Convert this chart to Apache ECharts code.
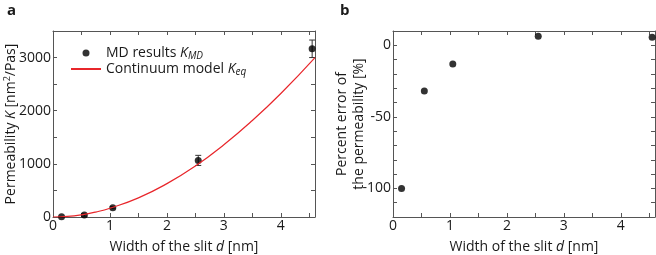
<!DOCTYPE html>
<html>
<head>
<meta charset="utf-8">
<script src="https://cdn.jsdelivr.net/npm/echarts@6/dist/echarts.min.js"></script>
<style>
  html, body { margin: 0; padding: 0; background: #fff; }
  #chart { width: 656px; height: 255px; }
</style>
</head>
<body>
<div id="chart"></div>
<script>
// MD results (panel a) and percent error (panel b)
var slitWidth = [0.15, 0.55, 1.05, 2.55, 4.55];
var permMD = [3, 37, 175, 1065, 3165];
var permErr = [5, 22, 20, 95, 165];
var percentErr = [-100, -32, -13, 6.3, 5.6];

// continuum model curve
var modelWidth = [0, 0.25, 0.5, 0.75, 1, 1.5, 2, 2.5, 3, 3.5, 4, 4.6];
var modelPerm = [0, 10, 41, 93, 165, 360, 628, 960, 1360, 1816, 2324, 3000];

var FONT = 'Open Sans';
var TXT = '#1a1a1a';
var AXIS = '#555';

function pairs(xs, ys) {
  var out = [];
  for (var i = 0; i < xs.length; i++) out.push([xs[i], ys[i]]);
  return out;
}

var errData = [];
for (var i = 0; i < slitWidth.length; i++) {
  errData.push([slitWidth[i], permMD[i] - permErr[i], permMD[i] + permErr[i]]);
}

function renderErr(params, api) {
  var x = api.value(0);
  var top = api.coord([x, api.value(2)]);
  var bot = api.coord([x, api.value(1)]);
  var w = 3;
  var st = { stroke: '#333', lineWidth: 1 };
  return {
    type: 'group',
    children: [
      { type: 'line', shape: { x1: top[0], y1: top[1], x2: bot[0], y2: bot[1] }, style: st },
      { type: 'line', shape: { x1: top[0] - w, y1: top[1], x2: top[0] + w, y2: top[1] }, style: st },
      { type: 'line', shape: { x1: bot[0] - w, y1: bot[1], x2: bot[0] + w, y2: bot[1] }, style: st }
    ]
  };
}

function makeRich(size) {
  return {
    i: { fontStyle: 'italic', fontFamily: FONT, fontSize: size, color: TXT },
    sub: { fontStyle: 'italic', fontFamily: FONT, fontSize: 10, color: TXT, lineHeight: 10, verticalAlign: 'bottom' },
    sup: { fontFamily: FONT, fontSize: 9, color: TXT, lineHeight: 9, verticalAlign: 'top' }
  };
}

function xAxisPair(grid) {
  var base = {
    gridIndex: grid, type: 'value', min: 0, max: 4.6, interval: 0.5,
    axisLine: { onZero: false, lineStyle: { color: AXIS, width: 1 } },
    axisTick: { inside: true, length: 4, lineStyle: { color: AXIS } },
    splitLine: { show: false }
  };
  var bottom = Object.assign({}, base, {
    position: 'bottom',
    name: 'Width of the slit {i|d} [nm]',
    nameLocation: 'middle',
    nameGap: 23,
    nameMoveOverlap: false,
    nameTextStyle: { fontFamily: FONT, fontSize: 14, color: TXT, rich: makeRich(14) },
    axisLabel: {
      fontFamily: FONT, fontSize: 14, color: TXT, margin: 2,
      formatter: function (v) { return v % 1 === 0 ? String(v) : ''; }
    }
  });
  var top = Object.assign({}, base, { position: 'top', axisLabel: { show: false } });
  return [bottom, top];
}

function yAxisPair(grid, min, max, step, labelStep, name, gap) {
  var base = {
    gridIndex: grid, type: 'value', min: min, max: max, interval: step,
    axisLine: { show: true, onZero: false, lineStyle: { color: AXIS, width: 1 } },
    axisTick: { show: true, inside: true, length: 4, lineStyle: { color: AXIS } },
    splitLine: { show: false }
  };
  var left = Object.assign({}, base, {
    position: 'left',
    name: name,
    nameLocation: 'middle',
    nameGap: gap,
    nameMoveOverlap: false,
    nameTextStyle: { fontFamily: FONT, fontSize: 14, color: TXT, lineHeight: 17, rich: makeRich(14) },
    axisLabel: {
      fontFamily: FONT, fontSize: 14, color: TXT, margin: 2,
      formatter: function (v) { return v % labelStep === 0 ? String(v) : ''; }
    }
  });
  var right = Object.assign({}, base, { position: 'right', axisLabel: { show: false } });
  return [left, right];
}

var xa = xAxisPair(0), xb = xAxisPair(1);
var ya = yAxisPair(0, 0, 3500, 500, 1000, 'Permeability {i|K} [nm{sup|2}/Pas]', 33);
var yb = yAxisPair(1, -120, 10, 10, 50, 'Percent error of\nthe permeability [%]', 25);

var chart = echarts.init(document.getElementById('chart'));
chart.setOption({
  animation: false,
  backgroundColor: '#fff',
  textStyle: { fontFamily: FONT },
  title: [
    { text: 'a', left: 2, top: -2, textStyle: { fontFamily: FONT, fontSize: 15, fontWeight: 'bold', color: TXT } },
    { text: 'b', left: 335, top: -2, textStyle: { fontFamily: FONT, fontSize: 15, fontWeight: 'bold', color: TXT } }
  ],
  grid: [
    { left: 53, top: 31, width: 262, height: 186, outerBoundsMode: 'none', containLabel: false },
    { left: 393, top: 31, width: 262, height: 186, outerBoundsMode: 'none', containLabel: false }
  ],
  legend: {
    left: 65, top: 40, orient: 'vertical',
    itemWidth: 30, itemHeight: 7, itemGap: 0,
    textStyle: { fontFamily: FONT, fontSize: 14, color: TXT, lineHeight: 16, rich: makeRich(14) },
    data: [
      { name: 'MD', icon: 'circle' },
      { name: 'model', itemStyle: { opacity: 0 } }
    ],
    formatter: function (n) {
      return n === 'MD' ? 'MD results {i|K}{sub|MD}' : 'Continuum model {i|K}{sub|eq}';
    }
  },
  xAxis: [xa[0], xa[1], xb[0], xb[1]],
  yAxis: [ya[0], ya[1], yb[0], yb[1]],
  series: [
    {
      type: 'custom', xAxisIndex: 0, yAxisIndex: 0,
      renderItem: renderErr, data: errData, z: 2
    },
    {
      name: 'MD', type: 'scatter', xAxisIndex: 0, yAxisIndex: 0,
      symbolSize: 7, itemStyle: { color: '#000' },
      data: pairs(slitWidth, permMD), z: 3
    },
    {
      name: 'model', type: 'line', xAxisIndex: 0, yAxisIndex: 0,
      symbol: 'none', smooth: true,
      lineStyle: { color: '#e8262b', width: 1.2 }, itemStyle: { color: '#e8262b' },
      data: pairs(modelWidth, modelPerm), z: 4
    },
    {
      type: 'scatter', xAxisIndex: 2, yAxisIndex: 2,
      symbolSize: 7, itemStyle: { color: '#000' },
      data: pairs(slitWidth, percentErr), z: 3
    }
  ]
});
</script>
</body>
</html>
